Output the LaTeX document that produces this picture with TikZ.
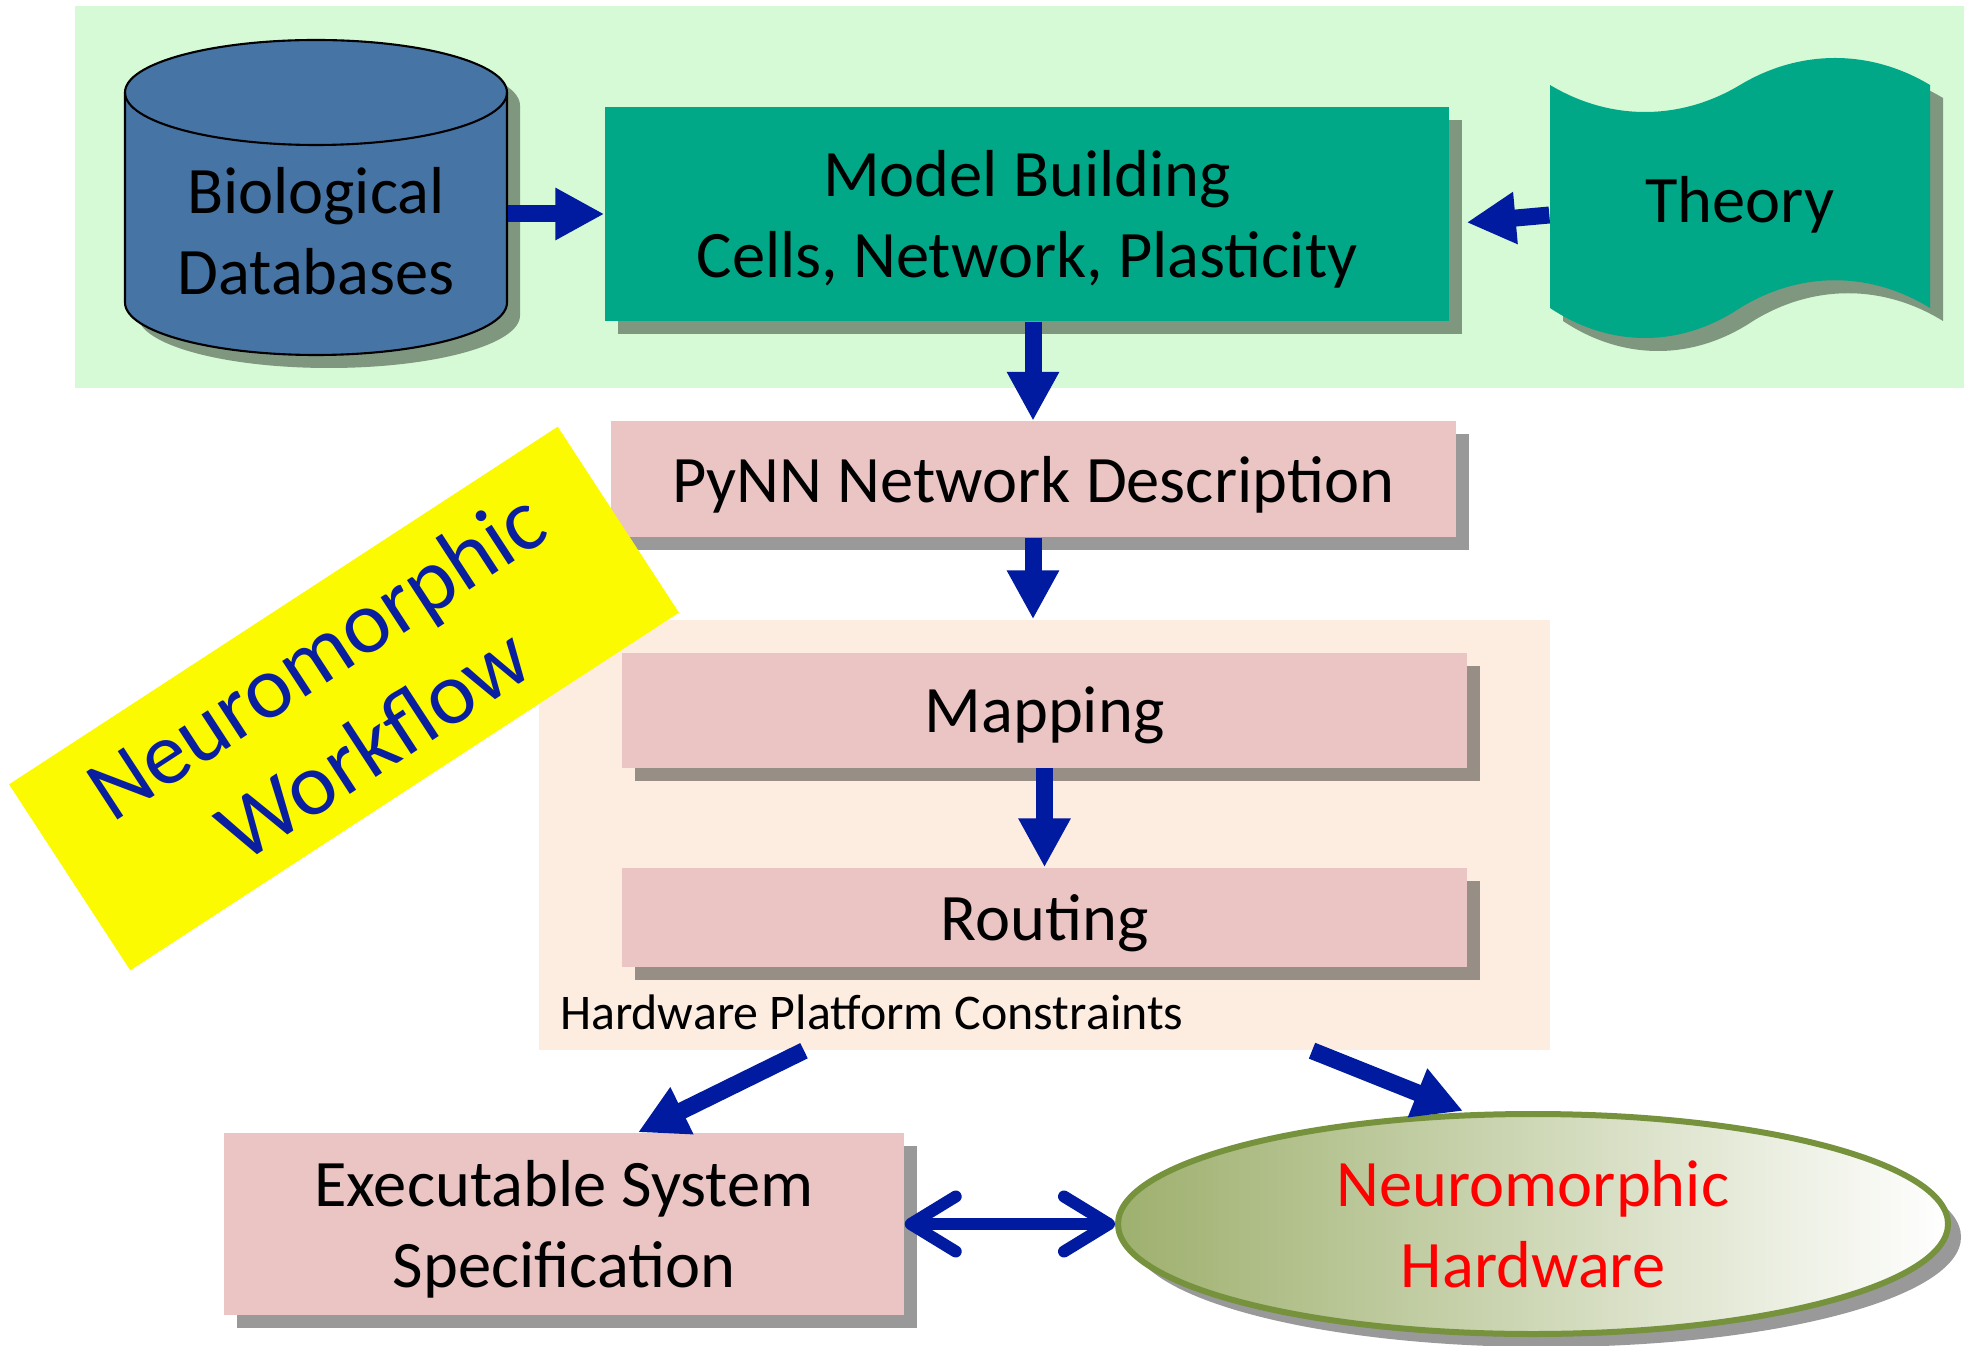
\documentclass[tikz,border=0pt]{standalone}
\usepackage{fontspec}
\setmainfont{Carlito}
\usetikzlibrary{arrows.meta,shadows,positioning,shapes.geometric}
\definecolor{bggreen}{RGB}{213,250,213}
\definecolor{dbblue}{RGB}{70,116,165}
\definecolor{modelteal}{RGB}{0,168,135}
\definecolor{boxpink}{RGB}{235,196,196}
\definecolor{hwbeige}{RGB}{253,237,224}
\definecolor{arrblue}{RGB}{0,26,160}
\definecolor{hwolive}{RGB}{118,146,60}
\definecolor{hwshade}{RGB}{158,176,110}
\definecolor{wfyellow}{RGB}{252,250,0}
\definecolor{wfblue}{RGB}{10,30,160}
\tikzset{
	shadowed/.style={drop shadow={shadow xshift=0.13cm,shadow yshift=-0.13cm,fill=black,opacity=0.4}},
	pinkbox/.style={rectangle,fill=boxpink,shadowed,align=center,text depth=-4pt,minimum width=8.45cm},
	flow/.style={draw=arrblue,line width=0.17cm,-{Triangle[length=0.49cm,width=0.49cm]}},
	duplex/.style={draw=arrblue,line width=0.12cm,{Straight Barb[length=0.45cm,width=0.55cm,round]}-{Straight Barb[length=0.45cm,width=0.55cm,round]}},
}
\begin{document}
\begin{tikzpicture}[font=\fontsize{18.9}{23}\selectfont]
				\useasboundingbox (0,0) rectangle (19.69,-13.46);
				% background areas
				\fill[bggreen] (0.75,-0.06) rectangle (19.64,-3.88);
				\path (10.445,-8.35) node[rectangle,fill=hwbeige,minimum width=10.11cm,minimum height=4.30cm](cons){};
				% database cylinder
				\filldraw[fill=dbblue,draw=black,line width=0.6pt,shadowed] (1.25,-0.925) -- (1.25,-3.025) arc[start angle=180,end angle=360,x radius=1.91cm,y radius=0.525cm] -- (5.07,-0.925) arc[start angle=0,end angle=180,x radius=1.91cm,y radius=0.525cm] -- cycle;
				\draw[line width=0.6pt] (1.25,-0.925) arc[start angle=180,end angle=360,x radius=1.91cm,y radius=0.525cm];
				% theory sheet
				\fill[modelteal,shadowed] (15.5,-0.85) .. controls (16.1,-1.21) and (16.8,-1.21) .. (17.4,-0.85) .. controls (18.0,-0.49) and (18.7,-0.49) .. (19.3,-0.85) -- (19.3,-3.08) .. controls (18.7,-2.71) and (18.0,-2.71) .. (17.4,-3.08) .. controls (16.8,-3.48) and (16.1,-3.48) .. (15.5,-3.08) -- cycle;
				\path
				(3.16,-2.31) node[minimum width=3.82cm,align=center](bio){Biological\\Databases}
				(17.40,-2.05) node[minimum width=3.8cm](theory){Theory}
				(10.27,-2.14) node[rectangle,fill=modelteal,shadowed,align=center,text depth=-3pt,minimum width=8.44cm,minimum height=2.14cm](model){Model Building\\Cells, Network, Plasticity}
				(10.33,-4.795) node[pinkbox,minimum height=1.16cm](pynn){PyNN Network Description}
				(10.445,-7.10) node[pinkbox,minimum height=1.15cm](mapping){Mapping}
				(10.445,-9.175) node[pinkbox,minimum height=0.99cm](routing){Routing}
				(5.64,-12.24) node[pinkbox,minimum width=6.80cm,minimum height=1.82cm](exec){Executable System\\Specification}
				(15.33,-12.24) node[ellipse,draw=hwolive,line width=0.06cm,left color=hwshade,right color=white,shadowed,minimum width=8.3cm,minimum height=2.2cm,inner sep=0pt,text=red,align=center,text depth=-2pt](hw){Neuromorphic\\Hardware}
				;
				\node[above right=0.2cm and 0.21cm of cons.south west,inner sep=0pt,font=\fontsize{14.2}{17}\selectfont](conslabel){Hardware Platform Constraints};
				\draw[flow] (bio.east |- model.west) -- (model.west);
				\draw[flow,shorten >=0.17cm] ([yshift=-0.1cm]theory.west) -- ([yshift=-0.1cm]model.east);
				\draw[flow] (pynn.north |- model.south) -- (pynn.north);
				\draw[flow] (pynn.south) -- (pynn.south |- cons.north);
				\draw[flow] (mapping.south) -- (routing.north);
				\draw[flow] ([xshift=-2.405cm]cons.south) -- ([xshift=0.74cm]exec.north);
				\draw[flow] ([xshift=2.675cm]cons.south) -- ([xshift=-0.7cm]hw.north);
				\draw[duplex] (exec.east) -- (hw.west);
				% label on top
				\path (3.44,-6.985) node[rectangle,fill=wfyellow,rotate=33.1,minimum width=6.55cm,minimum height=2.22cm,align=center,text depth=-4.5pt,text=wfblue,font=\fontsize{25.3}{30}\selectfont](wflow){Neuromorphic\\Workflow};
\end{tikzpicture}
\end{document}
